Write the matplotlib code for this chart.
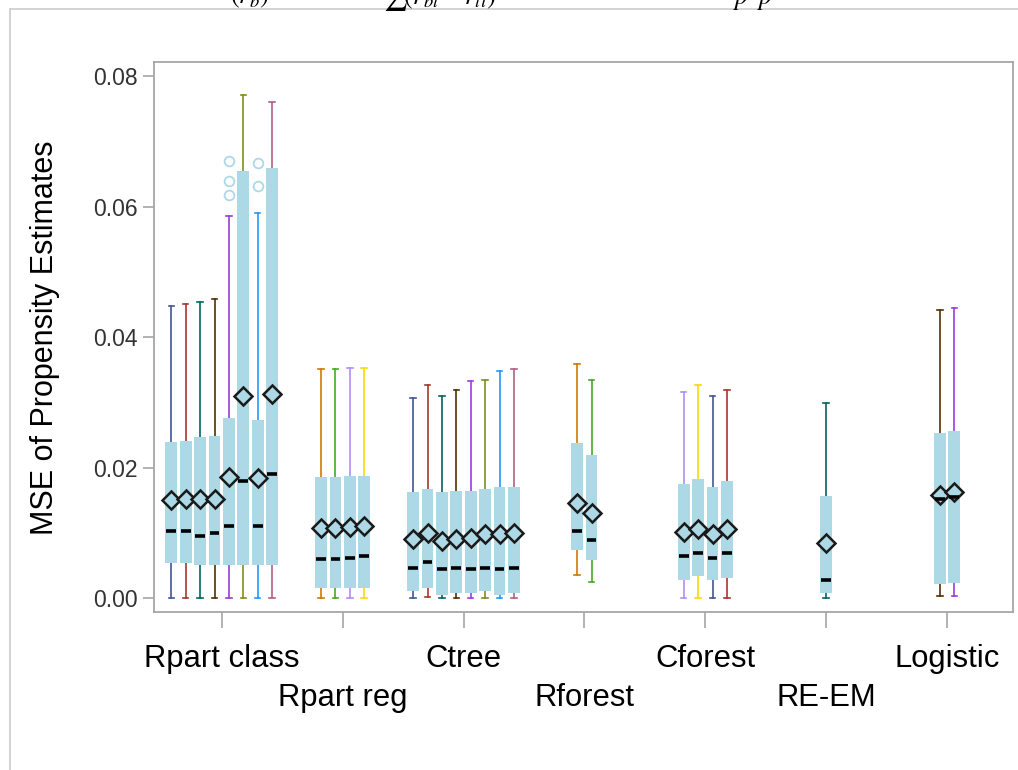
import matplotlib
matplotlib.use("Agg")
import matplotlib.pyplot as plt
from matplotlib.lines import Line2D
import numpy as np

plt.rcParams['font.family'] = ['Liberation Sans', 'DejaVu Sans']
plt.rcParams['mathtext.fontset'] = 'stix'

# ---------------- data ----------------
categories = ['Rpart class', 'Rpart reg', 'Ctree', 'Rforest', 'Cforest', 'RE-EM', 'Logistic']
box_group = [0]*8 + [1]*4 + [2]*8 + [3]*2 + [4]*4 + [5] + [6]*2

whisker_high = [0.0448, 0.0451, 0.0454, 0.0458, 0.0585, 0.0771, 0.0590, 0.0760,
                0.0351, 0.0351, 0.0353, 0.0353,
                0.0306, 0.0326, 0.0310, 0.0319, 0.0332, 0.0334, 0.0348, 0.0351,
                0.0358, 0.0334,
                0.0316, 0.0326, 0.0310, 0.0319,
                0.0299,
                0.0441, 0.0444]
q3 = [0.0239, 0.0241, 0.0246, 0.0249, 0.0276, 0.0654, 0.0273, 0.0659,
      0.0185, 0.0185, 0.0187, 0.0187,
      0.0162, 0.0167, 0.0162, 0.0164, 0.0164, 0.0167, 0.0170, 0.0170,
      0.0238, 0.0219,
      0.0175, 0.0182, 0.0170, 0.0180,
      0.0157,
      0.0253, 0.0256]
means = [0.0150, 0.0151, 0.0151, 0.0152, 0.0186, 0.0310, 0.0184, 0.0312,
         0.0108, 0.0108, 0.0109, 0.0110,
         0.0091, 0.0099, 0.0088, 0.0091, 0.0092, 0.0098, 0.0098, 0.0099,
         0.0145, 0.0130,
         0.0101, 0.0105, 0.0098, 0.0106,
         0.0085,
         0.0158, 0.0163]
medians = [0.0103, 0.0103, 0.0095, 0.0099, 0.0110, 0.0179, 0.0110, 0.0190,
           0.0059, 0.0059, 0.0062, 0.0064,
           0.0046, 0.0055, 0.0044, 0.0046, 0.0044, 0.0046, 0.0044, 0.0046,
           0.0103, 0.0089,
           0.0064, 0.0069, 0.0062, 0.0069,
           0.0027,
           0.0152, 0.0155]
q1 = [0.0054, 0.0054, 0.0051, 0.0051, 0.0051, 0.0051, 0.0051, 0.0051,
      0.0016, 0.0016, 0.0016, 0.0016,
      0.0011, 0.0016, 0.0005, 0.0007, 0.0007, 0.0010, 0.0005, 0.0007,
      0.0074, 0.0058,
      0.0027, 0.0034, 0.0027, 0.0031,
      0.0007,
      0.0021, 0.0023]
whisker_low = [0.0, 0.0, 0.0, 0.0, 0.0, 0.0, 0.0, 0.0,
               0.0, 0.0, 0.0, 0.0,
               0.0, 0.0002, 0.0, 0.0, 0.0, 0.0, 0.0, 0.0,
               0.0035, 0.0025,
               0.0, 0.0, 0.0, 0.0,
               0.0,
               0.0003, 0.0003]
outliers = {4: [0.0670, 0.0639, 0.0617], 6: [0.0667, 0.0632]}
y_ticks = [0.00, 0.02, 0.04, 0.06, 0.08]

# ---------------- style ----------------
pal = ['#445694', '#A23A2E', '#01665E', '#543005', '#9D3CDB', '#7F8E1F',
       '#2597FA', '#B26084', '#D17800', '#47A82A', '#B38EF3', '#F9DA04']
color_idx = list(range(8)) + [8, 9, 10, 11] + list(range(8)) + [8, 9] + [10, 11, 0, 1] + [2] + [3, 4]
BOX = '#ADD8E6'
GRAY = '#A6A6A6'
step = 0.1191
bw = 0.097

# positions
positions = []
for g in range(len(categories)):
    idx = [i for i, b in enumerate(box_group) if b == g]
    n = len(idx)
    for k in range(n):
        positions.append(g + 1 + (k - (n - 1) / 2) * step)

stats = []
for i in range(len(box_group)):
    stats.append(dict(med=medians[i], q1=q1[i], q3=q3[i], whislo=whisker_low[i],
                      whishi=whisker_high[i], mean=means[i], fliers=outliers.get(i, [])))

fig = plt.figure(figsize=(10.18, 7.7), dpi=100)
ax = fig.add_axes([154/1018, 1 - 611.5/770, (1013 - 154)/1018, (611.5 - 62)/770])

res = ax.bxp(stats, positions=positions, widths=bw, patch_artist=True, showmeans=True,
             capwidths=0.045,
             boxprops=dict(facecolor=BOX, edgecolor='none', linewidth=0),
             medianprops=dict(linewidth=0),
             meanprops=dict(marker='D', markerfacecolor=BOX, markeredgecolor='#1a1a1a',
                            markersize=9, markeredgewidth=1.8),
             flierprops=dict(marker='o', markerfacecolor='none', markeredgecolor=BOX,
                             markersize=7, markeredgewidth=1.3),
             manage_ticks=False)

for i, ci in enumerate(color_idx):
    for ln in res['whiskers'][2*i:2*i+2] + res['caps'][2*i:2*i+2]:
        ln.set_color(pal[ci])
        ln.set_linewidth(1.2)
        ln.set_zorder(1)
for b in res['boxes']:
    b.set_zorder(2)
for m in res['means']:
    m.set_zorder(3)

ax.hlines(medians, np.array(positions) - 0.04, np.array(positions) + 0.04,
          colors='black', linewidth=2.6, zorder=4)

ax.set_xlim(0.44, 7.545)
ax.set_ylim(-0.00207, 0.08215)
ax.set_yticks(y_ticks)
ax.set_yticklabels([f'{v:.2f}' for v in y_ticks])
ax.set_xticks(range(1, len(categories) + 1))
ax.set_xticklabels(categories)

for s in ax.spines.values():
    s.set_color(GRAY)
    s.set_linewidth(1.3)
ax.tick_params(axis='y', length=8, width=1.2, color=GRAY, labelsize=16.5,
               labelcolor='#333333', pad=4)
ax.tick_params(axis='x', length=11.5, width=1.2, color=GRAY, labelsize=22.3,
               labelcolor='black', pad=12)
for i, tk in enumerate(ax.xaxis.get_major_ticks()):
    if i % 2 == 1:
        tk.set_pad(12 + 28)

fig.text(45/1018, 1 - 338/770, 'MSE of Propensity Estimates', rotation=90,
         ha='center', va='center', fontsize=22, color='black')

# outer frame lines
fig.add_artist(Line2D([10/1018, 10/1018], [0, 1 - 8.5/770], color='#CCCCCC', lw=1.2,
                      transform=fig.transFigure))
fig.add_artist(Line2D([10/1018, 1], [1 - 8.5/770, 1 - 8.5/770], color='#CCCCCC', lw=1.2,
                      transform=fig.transFigure))

# clipped text fragment at the very top (as in the reference)
fig.text(230/1018, 1 - 4/770, r'$(\hat{r}_b)$', fontsize=19, ha='left', va='baseline')
fig.text(383/1018, 1 - 4/770, r'$\sum\!(\hat{r}_{bt} - r_{ti})$', fontsize=19, ha='left', va='baseline')
fig.text(733/1018, 1 - 4/770, r'$p \;\; p$', fontsize=19, ha='left', va='baseline')

fig.savefig('out.png', dpi=100)
